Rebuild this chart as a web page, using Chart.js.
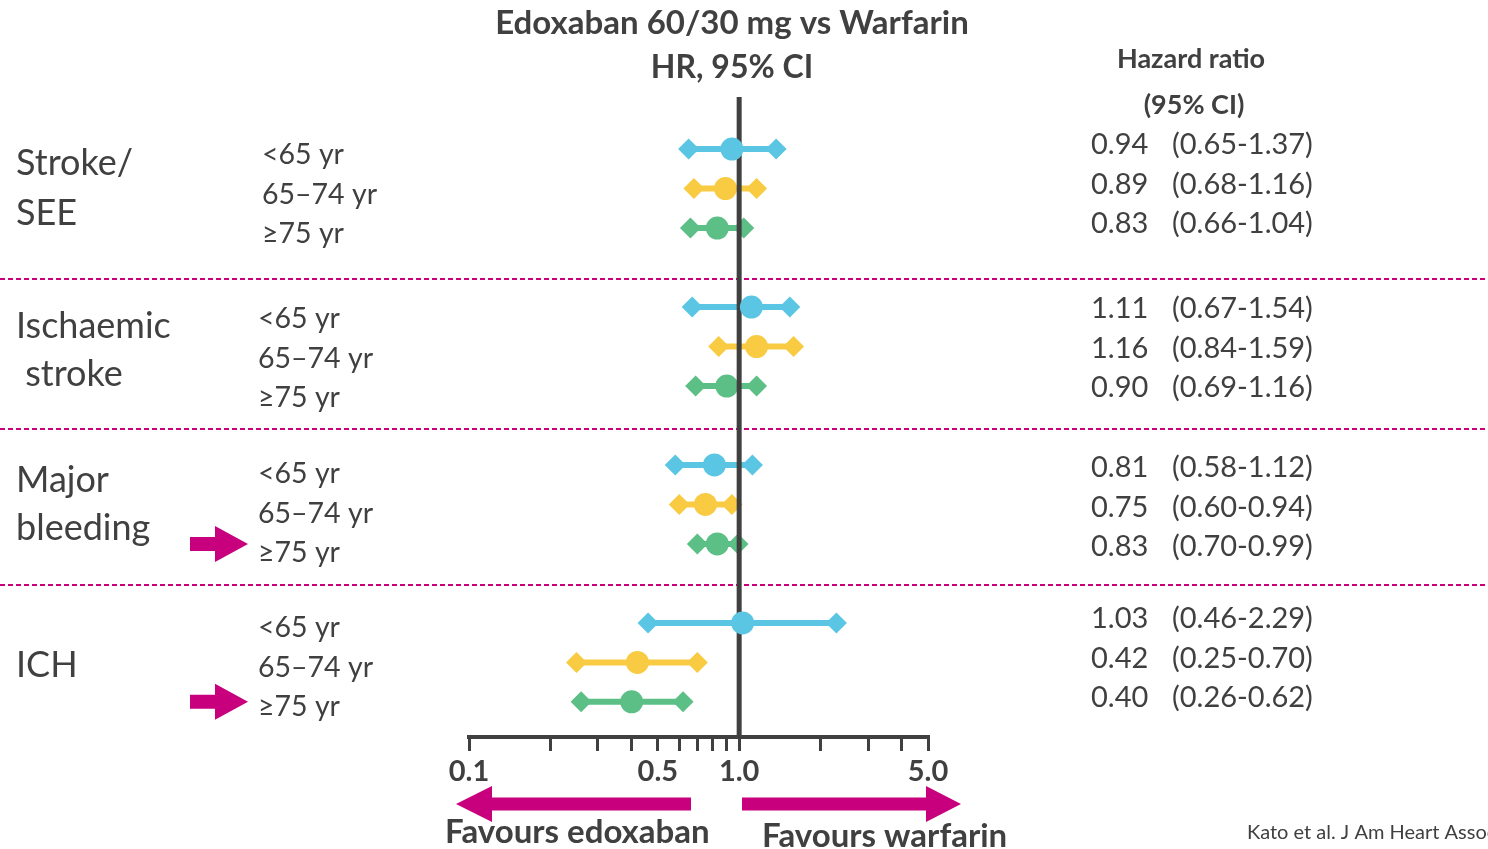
<!DOCTYPE html>
<html>
<head>
<meta charset="utf-8">
<script src="https://cdn.jsdelivr.net/npm/chart.js@4.4.1/dist/chart.umd.min.js"></script>
<style>
  html, body { margin: 0; padding: 0; background: #fff; }
  canvas { display: block; }
</style>
</head>
<body>
<canvas id="forestChart" width="1488" height="849"></canvas>
<script>
// outcomes (left labels), age subgroups, and HR with 95% CI per row
const outcomes = [['Stroke/', 'SEE'], ['Ischaemic', ' stroke'], ['Major', 'bleeding'], ['ICH']];
const ageGroups = ['<65 yr', '65–74 yr', '≥75 yr'];
const hazardRatio = [0.94, 0.89, 0.83, 1.11, 1.16, 0.90, 0.81, 0.75, 0.83, 1.03, 0.42, 0.40];
const ciLow = [0.65, 0.68, 0.66, 0.67, 0.84, 0.69, 0.58, 0.60, 0.70, 0.46, 0.25, 0.26];
const ciHigh = [1.37, 1.16, 1.04, 1.54, 1.59, 1.16, 1.12, 0.94, 0.99, 2.29, 0.70, 0.62];
const xTicks = [0.1, 0.2, 0.3, 0.4, 0.5, 0.6, 0.7, 0.8, 0.9, 1, 2, 3, 4, 5];
const xTickLabels = { 0.1: '0.1', 0.5: '0.5', 1: '1.0', 5: '5.0' };
const arrowRows = [8, 11];

const ageColors = ['#5bc6e3', '#f9cb43', '#5cbf86'];
const textColor = '#404040';
const magenta = '#c8007e';
const font = 'Lato, "Open Sans", sans-serif';

// each outcome gets 3 rows plus one empty slot as a gap
const rowOf = i => Math.floor(i / 3) * 4 + (i % 3);

const datasets = [];
hazardRatio.forEach((hr, i) => {
    const c = ageColors[i % 3];
    datasets.push({
        data: [{ x: ciLow[i], y: rowOf(i) }, { x: ciHigh[i], y: rowOf(i) }],
        showLine: true,
        borderColor: c,
        borderWidth: 6,
        pointStyle: 'rectRot',
        pointRadius: 10.5,
        pointBackgroundColor: c,
        pointBorderWidth: 0,
        order: 1
    });
});
ageGroups.forEach((age, a) => {
    datasets.push({
        data: hazardRatio.map((hr, i) => ({ x: hr, y: rowOf(i) })).filter((p, i) => i % 3 === a),
        pointRadius: 11.5,
        pointBackgroundColor: ageColors[a],
        pointBorderWidth: 0,
        order: 0
    });
});

function arrow(ctx, xFrom, xBase, xTip, y, shaftH, headH) {
    ctx.beginPath();
    ctx.moveTo(xFrom, y - shaftH / 2);
    ctx.lineTo(xBase, y - shaftH / 2);
    ctx.lineTo(xBase, y - headH / 2);
    ctx.lineTo(xTip, y);
    ctx.lineTo(xBase, y + headH / 2);
    ctx.lineTo(xBase, y + shaftH / 2);
    ctx.lineTo(xFrom, y + shaftH / 2);
    ctx.closePath();
    ctx.fill();
}

const refLine = {
    id: 'refLine',
    beforeDatasetDraw(chart, args) {
        if (args.index !== hazardRatio.length) return;
        const ctx = chart.ctx;
        const x = chart.scales.x.getPixelForValue(1);
        ctx.save();
        ctx.strokeStyle = textColor;
        ctx.lineWidth = 5;
        ctx.beginPath();
        ctx.moveTo(x, 97);
        ctx.lineTo(x, chart.chartArea.bottom);
        ctx.stroke();
        ctx.restore();
    }
};

const decorations = {
    id: 'decorations',
    beforeDatasetsDraw(chart) {
        const ctx = chart.ctx;
        ctx.save();
        ctx.strokeStyle = magenta;
        ctx.lineWidth = 2;
        ctx.setLineDash([5, 3]);
        [279, 429, 585].forEach(y => {
            ctx.beginPath();
            ctx.moveTo(0, y);
            ctx.lineTo(1488, y);
            ctx.stroke();
        });
        ctx.restore();
    },
    afterDraw(chart) {
        const ctx = chart.ctx;
        const yS = chart.scales.y;
        ctx.save();
        ctx.fillStyle = textColor;
        ctx.textBaseline = 'middle';

        // titles
        ctx.textAlign = 'center';
        ctx.font = 'bold 33px ' + font;
        ctx.fillText('Edoxaban 60/30 mg vs Warfarin', 732, 23);
        ctx.font = 'bold 32px ' + font;
        ctx.fillText('HR, 95% CI', 732, 68);
        ctx.font = 'bold 27px ' + font;
        ctx.fillText('Hazard ratio', 1191, 59);
        ctx.fillText('(95% CI)', 1194, 105);

        // outcome labels
        ctx.textAlign = 'left';
        ctx.font = '36px ' + font;
        const outcomeY = [[163, 213], [326, 374], [480, 528], [665]];
        outcomes.forEach((lines, g) => {
            lines.forEach((t, k) => ctx.fillText(t, 16, outcomeY[g][k]));
        });

        // age labels and HR text
        const ageOff = [6, 12, 9, 5];
        const hrOff = [-4, 2, 3, -4];
        hazardRatio.forEach((hr, i) => {
            const g = Math.floor(i / 3);
            const py = yS.getPixelForValue(rowOf(i));
            ctx.font = '28.5px ' + font;
            ctx.fillText(ageGroups[i % 3], g === 0 ? 262 : 258, py + ageOff[g]);
            ctx.font = '29px ' + font;
            ctx.fillText(hr.toFixed(2), 1091, py + hrOff[g]);
            ctx.fillText('(' + ciLow[i].toFixed(2) + '-' + ciHigh[i].toFixed(2) + ')', 1172, py + hrOff[g]);
        });

        // bottom captions
        ctx.font = 'bold 33px ' + font;
        ctx.fillText('Favours edoxaban', 445, 832);
        ctx.fillText('Favours warfarin', 762, 836);
        ctx.font = '20px ' + font;
        ctx.fillText('Kato et al. J Am Heart Assoc', 1247, 833);

        // arrows
        ctx.fillStyle = magenta;
        arrowRows.forEach(i => {
            const py = yS.getPixelForValue(rowOf(i));
            arrow(ctx, 190, 215, 248, py, 14, 36);
        });
        arrow(ctx, 691, 492, 456, 804, 13, 36);
        arrow(ctx, 742, 926, 961, 804, 13, 36);
        ctx.restore();
    }
};

new Chart(document.getElementById('forestChart'), {
    type: 'scatter',
    data: { datasets },
    plugins: [decorations, refLine],
    options: {
        responsive: false,
        animation: false,
        layout: { padding: { left: 469, right: 560, top: 97, bottom: 0 } },
        plugins: { legend: { display: false }, tooltip: { enabled: false } },
        scales: {
            x: {
                type: 'logarithmic',
                position: 'bottom',
                min: 0.1,
                max: 5,
                afterBuildTicks: s => { s.ticks = xTicks.map(v => ({ value: v })); },
                afterFit: s => { s.height = 112; },
                ticks: {
                    autoSkip: false,
                    maxRotation: 0,
                    color: textColor,
                    padding: 3,
                    font: { family: font, weight: 'bold', size: 29 },
                    callback: v => xTickLabels[v] || ''
                },
                grid: { drawOnChartArea: false, drawTicks: true, tickLength: 14, color: textColor, lineWidth: 3 },
                border: { color: textColor, width: 4 }
            },
            y: {
                type: 'linear',
                reverse: true,
                min: -1.32,
                max: 14.89,
                display: false
            }
        }
    }
});
</script>
</body>
</html>
